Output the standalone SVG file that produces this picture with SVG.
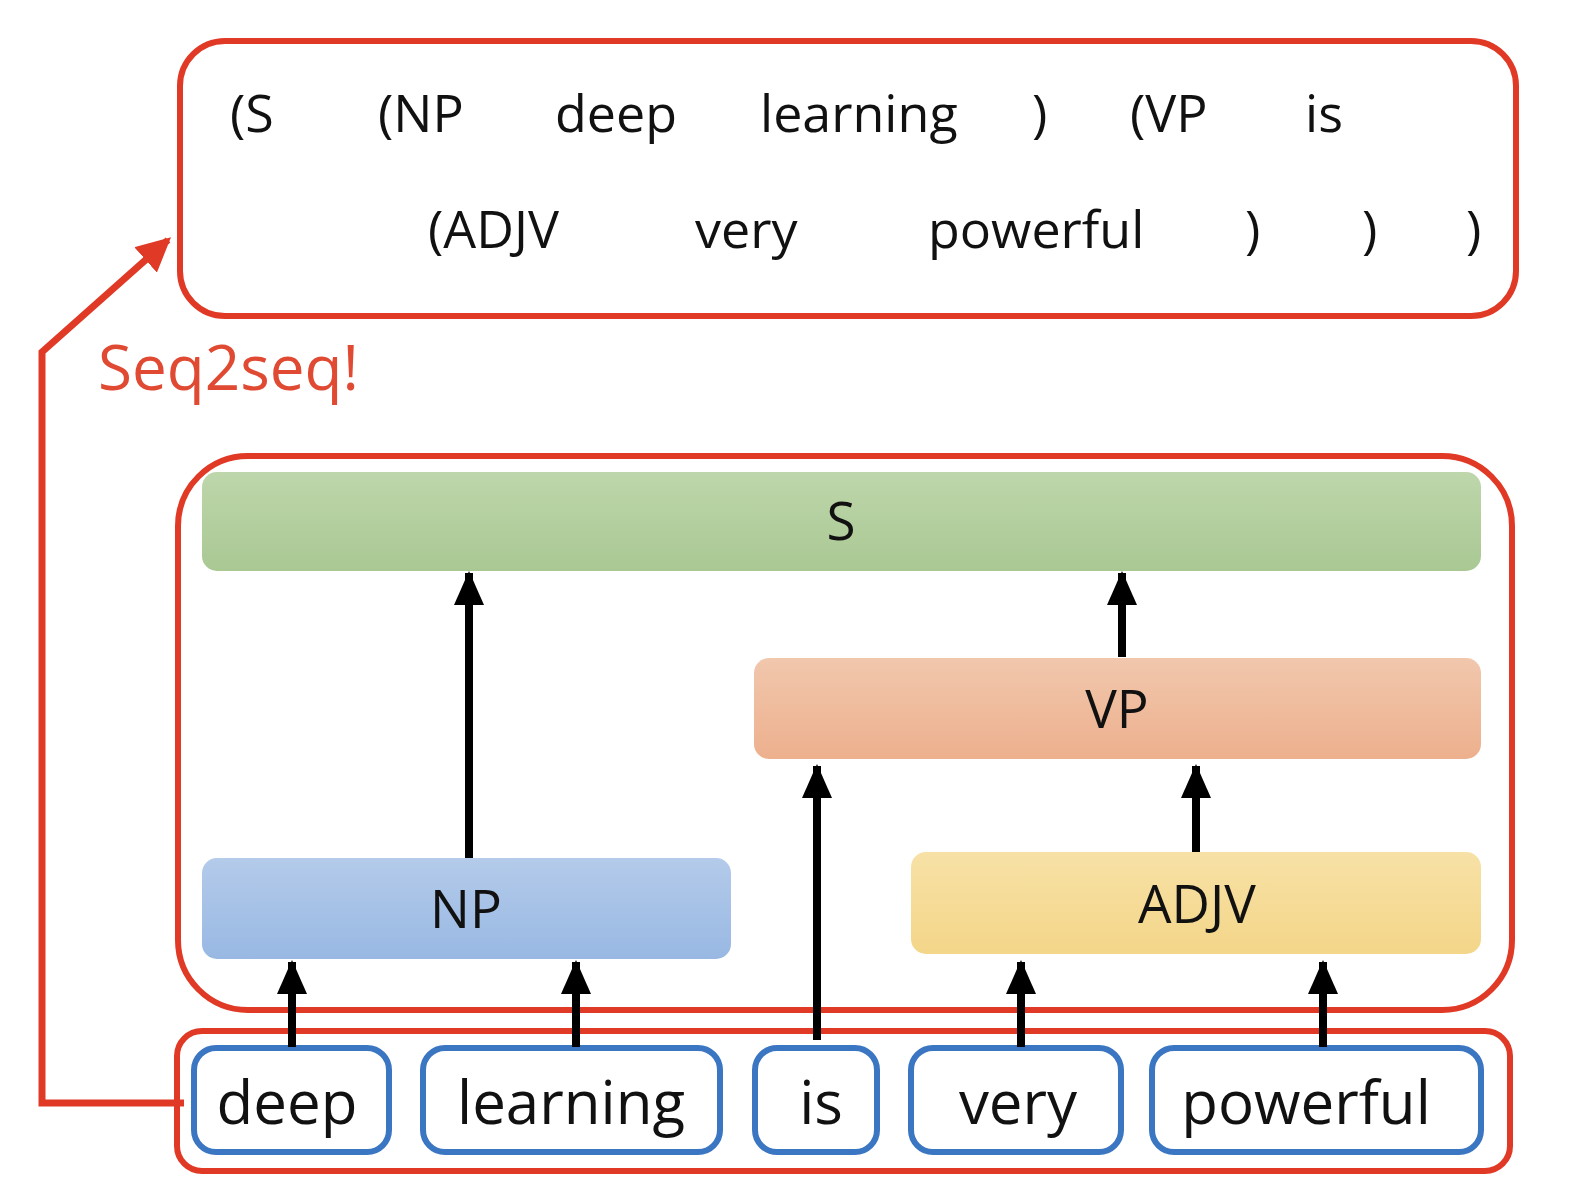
<svg xmlns="http://www.w3.org/2000/svg" width="1580" height="1199" viewBox="0 0 1580 1199">
<style>
.red{fill:none;stroke:#e03a26;stroke-width:6}
.t{font-family:"Open Sans","Noto Sans",sans-serif;fill:#111}
.top{font-size:52px}
.lbl{font-size:53px;text-anchor:middle}
.word{font-size:60px;text-anchor:middle}
.wb{fill:#fff;stroke:#3b76c2;stroke-width:6}
.arr{stroke:#000;stroke-width:8;fill:none;marker-end:url(#ah)}
</style>
<defs>
<marker id="ah" markerUnits="userSpaceOnUse" markerWidth="34" markerHeight="30" refX="32" refY="15" orient="auto" viewBox="0 0 34 30">
<path d="M0,0 L34,15 L0,30 Z" fill="#000"/>
</marker>
<marker id="rah" markerUnits="userSpaceOnUse" markerWidth="34" markerHeight="34" refX="30" refY="17" orient="auto" viewBox="0 0 34 34">
<path d="M0,0 L34,17 L0,34 Z" fill="#e03a26"/>
</marker>
<linearGradient id="gS" x1="0" y1="0" x2="0" y2="1"><stop offset="0" stop-color="#bed6ab"/><stop offset="1" stop-color="#a9c893"/></linearGradient>
<linearGradient id="gVP" x1="0" y1="0" x2="0" y2="1"><stop offset="0" stop-color="#f1c7ad"/><stop offset="1" stop-color="#edb08d"/></linearGradient>
<linearGradient id="gNP" x1="0" y1="0" x2="0" y2="1"><stop offset="0" stop-color="#b4cbea"/><stop offset="1" stop-color="#98b8e3"/></linearGradient>
<linearGradient id="gADJV" x1="0" y1="0" x2="0" y2="1"><stop offset="0" stop-color="#f7e1a6"/><stop offset="1" stop-color="#f4d689"/></linearGradient>
</defs>
<rect width="1580" height="1199" fill="#fff"/>

<g id="output-box">
<rect class="red" x="180" y="41" width="1336" height="275" rx="45"/>
<g class="t top">
<text x="230" y="132">(S</text>
<text x="378" y="132">(NP</text>
<text x="555" y="132">deep</text>
<text x="760" y="132">learning</text>
<text x="1032" y="132">)</text>
<text x="1130" y="132">(VP</text>
<text x="1305" y="132">is</text>
<text x="428" y="248">(ADJV</text>
<text x="695" y="248">very</text>
<text x="928" y="248">powerful</text>
<text x="1245" y="248">)</text>
<text x="1362" y="248">)</text>
<text x="1466" y="248">)</text>
</g>
</g>

<g id="seq2seq-label">
<text x="98" y="390" font-family="Open Sans, Noto Sans, sans-serif" font-size="62" fill="#e04a33">Seq2seq!</text>
</g>

<g id="tree-box">
<rect class="red" x="178" y="456" width="1334" height="554" rx="70"/>
</g>

<g id="S">
<rect x="202" y="472" width="1279" height="99" rx="15" fill="url(#gS)"/>
<text class="t lbl" x="841" y="540">S</text>
</g>
<g id="VP">
<rect x="754" y="658" width="727" height="101" rx="15" fill="url(#gVP)"/>
<text class="t lbl" x="1117" y="728">VP</text>
</g>
<g id="NP">
<rect x="202" y="858" width="529" height="101" rx="15" fill="url(#gNP)"/>
<text class="t lbl" x="466" y="928">NP</text>
</g>
<g id="ADJV">
<rect x="911" y="852" width="570" height="102" rx="15" fill="url(#gADJV)"/>
<text class="t lbl" x="1197" y="923">ADJV</text>
</g>

<g id="input-box">
<rect class="red" x="177" y="1031" width="1333" height="140" rx="25"/>
</g>
<g id="w-deep"><rect class="wb" x="194" y="1048" width="195" height="104" rx="22"/><text class="t word" x="287" y="1124">deep</text></g>
<g id="w-learning"><rect class="wb" x="423" y="1048" width="297" height="104" rx="22"/><text class="t word" x="571" y="1124">learning</text></g>
<g id="w-is"><rect class="wb" x="755" y="1048" width="122" height="104" rx="22"/><text class="t word" x="821" y="1124">is</text></g>
<g id="w-very"><rect class="wb" x="911" y="1048" width="210" height="104" rx="22"/><text class="t word" x="1018" y="1124">very</text></g>
<g id="w-powerful"><rect class="wb" x="1152" y="1048" width="329" height="104" rx="22"/><text class="t word" x="1306" y="1124">powerful</text></g>

<g id="connectors">
<line class="arr" x1="469" y1="858" x2="469" y2="573"/>
<line class="arr" x1="1122" y1="657" x2="1122" y2="573"/>
<line class="arr" x1="817" y1="1040" x2="817" y2="766"/>
<line class="arr" x1="1196" y1="852" x2="1196" y2="766"/>
<line class="arr" x1="292" y1="1047" x2="292" y2="962"/>
<line class="arr" x1="576" y1="1047" x2="576" y2="962"/>
<line class="arr" x1="1021" y1="1047" x2="1021" y2="962"/>
<line class="arr" x1="1323" y1="1047" x2="1323" y2="962"/>
<polyline points="184,1103 42,1103 42,352 168,240" fill="none" stroke="#e03a26" stroke-width="7" marker-end="url(#rah)"/>
</g>
</svg>
